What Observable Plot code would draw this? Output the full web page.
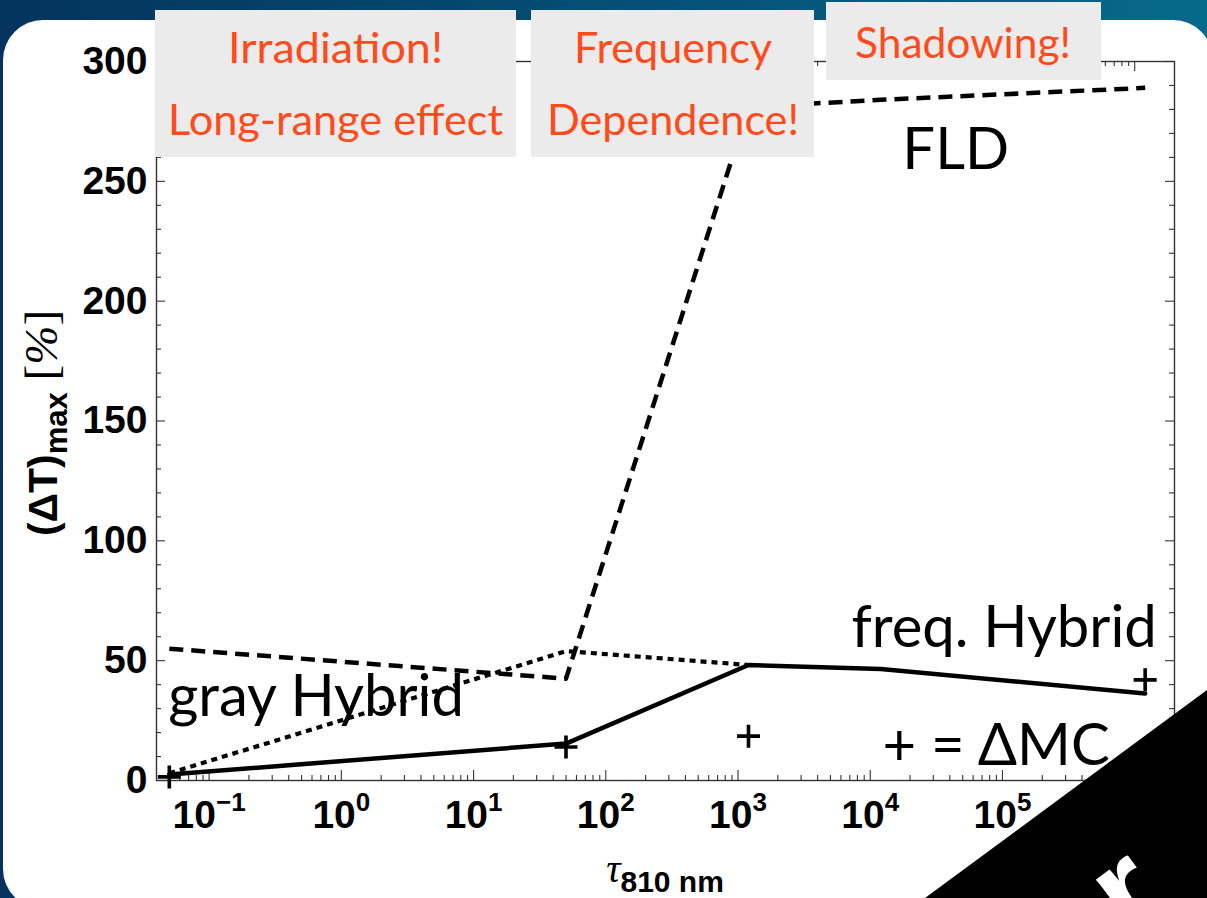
<!DOCTYPE html>
<html><head><meta charset="utf-8">
<script src="https://cdn.jsdelivr.net/npm/d3@7"></script>
<script src="https://cdn.jsdelivr.net/npm/@observablehq/plot@0.6"></script>
<style>
html,body{margin:0;padding:0;width:1207px;height:898px;overflow:hidden;}
body{background:linear-gradient(90deg,#04345d 0%,#044e74 50%,#066a8b 100%);position:relative;}
#panel{position:absolute;left:3px;top:20px;width:1210px;height:889px;background:#fff;border-radius:40px;}
#chart{position:absolute;left:0;top:0;width:1207px;height:898px;}
</style></head><body><div id="panel"></div><div id="chart"></div>
<script>
// ---- data ----
const tau        = [0.05, 50, 1200, 12000, 1.2e6];
const fld        = [55, 42.5, 281, 284, 289];
const grayHybrid = [3, 54, 48.2, null, null];
const freqHybrid = [2.5, 15.4, 48.2, 46.5, 36.3];
const deltaMC    = [1.5, 14, 18.5, null, 42];

const xTickValues = [0.1, 1, 10, 100, 1000, 1e4, 1e5, 1e6];
const yTickValues = [0, 50, 100, 150, 200, 250, 300];

// in-plot labels (annotation)
const labelText   = ["FLD", "freq. Hybrid", "gray Hybrid", "+ = \u0394MC"];
const labelTau    = [44300, 1.47e6, 0.049, 12400];
const labelValue  = [255, 55.5, 27.1, 6.3];
const labelAnchor = ["middle", "end", "start", "start"];
const labelWidth  = [100, 304, 300, 246];
const labelSize   = [59, 58, 58, 60];

// call-out boxes (annotation)
const boxLines = [["Irradiation!", "Long-range effect"], ["Frequency", "Dependence!"], ["Shadowing!"]];

// ---- derived tables ----
const rows = tau.map((t, i) => ({tau: t, fld: fld[i], gray: grayHybrid[i], freq: freqHybrid[i]}));
const mcRows = tau.map((t, i) => ({tau: t, mc: deltaMC[i]})).filter(d => d.mc != null);

const xDomain = [0.04, 2e6];
const yDomain = [0, 300];
const xMinor = [];
for (let e = -2; e <= 6; e++) for (let m = 2; m <= 9; m++) {
  const v = m * Math.pow(10, e);
  if (v > xDomain[0] && v < xDomain[1]) xMinor.push(v);
}
const xMajor = xTickValues.filter(v => v > xDomain[0] && v < xDomain[1]);
const yMinor = d3.range(0, 301, 10).filter(v => v % 50 !== 0);

const tickStroke = "#333";
function xTicks(vals, len) {
  return [
    Plot.ruleX(vals, {x: d => d, y1: () => 0, y2: () => 0, insetTop: -len, stroke: tickStroke, strokeWidth: 1.1}),
    Plot.ruleX(vals, {x: d => d, y1: () => 300, y2: () => 300, insetBottom: -len, stroke: tickStroke, strokeWidth: 1.1})
  ];
}
function yTicks(vals, len) {
  return [
    Plot.ruleY(vals, {y: d => d, x1: () => xDomain[0], x2: () => xDomain[0], insetRight: -len, stroke: tickStroke, strokeWidth: 1.1}),
    Plot.ruleY(vals, {y: d => d, x1: () => xDomain[1], x2: () => xDomain[1], insetLeft: -len, stroke: tickStroke, strokeWidth: 1.1})
  ];
}

const plusSymbol = {
  draw(ctx, size) {
    const r = Math.sqrt(size / Math.PI);
    ctx.moveTo(-r, 0); ctx.lineTo(r, 0);
    ctx.moveTo(0, -r); ctx.lineTo(0, r);
  }
};

const humanist = "Lato, 'Open Sans', sans-serif";
const labelIdx = labelText.map((_, i) => i);
const anchors = ["start", "middle", "end"];
const labelMarks = anchors.map(a => Plot.text(labelIdx.filter(i => labelAnchor[i] === a), {
  x: i => labelTau[i], y: i => labelValue[i], text: i => labelText[i],
  textAnchor: a, lineAnchor: "bottom", fontSize: 58, fontFamily: humanist,
  fill: "black", ariaLabel: "label-" + a
}));

const sansBold = "'Liberation Sans', Arial, Helvetica, sans-serif";
const serif = "'Liberation Serif', 'Times New Roman', serif";

const plot = Plot.plot({
  width: 1207, height: 898,
  marginLeft: 156, marginRight: 33, marginTop: 61, marginBottom: 118,
  style: {background: "transparent", overflow: "visible", fontFamily: sansBold},
  x: {type: "log", domain: xDomain},
  y: {domain: yDomain},
  marks: [
    ...xTicks(xMajor, 10), ...xTicks(xMinor, 5),
    ...yTicks(yTickValues, 9), ...yTicks(yMinor, 5),
    Plot.frame({stroke: "#333", strokeWidth: 1.4}),
    Plot.axisX(xTickValues, {tickSize: 0, tickPadding: 20, fontSize: 39, fontWeight: "bold", fontFamily: sansBold, fill: "black",
      tickFormat: d => String(Math.round(Math.log10(d))), label: null}),
    Plot.axisY(yTickValues, {tickSize: 0, tickPadding: 9, fontSize: 39, fontWeight: "bold", fontFamily: sansBold, fill: "black", label: null}),
    Plot.line(rows, {x: "tau", y: "fld", stroke: "black", strokeWidth: 4.5, strokeDasharray: "14,8", strokeLinecap: "butt"}),
    Plot.line(rows, {x: "tau", y: "gray", stroke: "black", strokeWidth: 4.2, strokeDasharray: "6,5", strokeLinecap: "butt"}),
    Plot.line(rows, {x: "tau", y: "freq", stroke: "black", strokeWidth: 4.5}),
    Plot.dot(mcRows, {x: "tau", y: "mc", symbol: plusSymbol, r: 11.5, stroke: "black", strokeWidth: 3.6, fill: "none"}),
    ...labelMarks
  ]
});

document.getElementById("chart").append(plot);
const svg = d3.select(plot);

// superscript exponents on x tick labels
svg.selectAll('g[aria-label="x-axis tick label"] text').each(function () {
  const e = this.textContent.replace("-", "\u2212");
  this.textContent = "";
  const t = d3.select(this);
  t.append("tspan").text("10");
  t.append("tspan").attr("dy", -17).attr("font-size", 26).text(e);
});

// set size and squeeze to the reference width (the reference face is narrower)
function fitLen(node, size, w) {
  node.setAttribute("font-size", size);
  node.setAttribute("textLength", w);
  node.setAttribute("lengthAdjust", "spacingAndGlyphs");
}
anchors.forEach(a => {
  const ids = labelIdx.filter(i => labelAnchor[i] === a);
  plot.querySelectorAll(`g[aria-label="label-${a}"] text`).forEach((n, k) => fitLen(n, labelSize[ids[k]], labelWidth[ids[k]]));
});

// axis titles
const yl = svg.append("text").attr("transform", "translate(57,423) rotate(-90)").attr("text-anchor", "middle").attr("fill", "black");
yl.append("tspan").attr("font-family", sansBold).attr("font-weight", "bold").attr("font-size", 41).text("(\u0394T)");
yl.append("tspan").attr("font-family", sansBold).attr("font-weight", "bold").attr("font-size", 31).attr("dy", 10).text("max");
yl.append("tspan").attr("font-family", serif).attr("font-size", 47).attr("dy", -10).text(" [");
yl.append("tspan").attr("font-family", serif).attr("font-style", "italic").attr("font-size", 47).text("%");
yl.append("tspan").attr("font-family", serif).attr("font-size", 47).text("]");

const xl = svg.append("text").attr("x", 665).attr("y", 882).attr("text-anchor", "middle").attr("fill", "black");
xl.append("tspan").attr("font-family", serif).attr("font-style", "italic").attr("font-size", 40).text("\u03C4");
xl.append("tspan").attr("font-family", sansBold).attr("font-weight", "bold").attr("font-size", 30).attr("dy", 10).text("810 nm");

// call-out boxes
const boxGeom = [
  {x: 155, y: 10, w: 361, h: 147, cx: 335.5, base: [63, 135], widths: [215, 335], size: 42},
  {x: 531, y: 10, w: 283, h: 147, cx: 673, base: [63, 135], widths: [198, 252], size: 42},
  {x: 826, y: 2, w: 275, h: 78, cx: 963, base: [58], widths: [216], size: 42}
];
const gBoxes = svg.append("g");
boxGeom.forEach((b, i) => {
  gBoxes.append("rect").attr("x", b.x).attr("y", b.y).attr("width", b.w).attr("height", b.h).attr("fill", "#ebebeb");
  boxLines[i].forEach((line, j) => {
    const t = gBoxes.append("text").attr("x", b.cx).attr("y", b.base[j]).attr("text-anchor", "middle")
      .attr("font-family", humanist).attr("fill", "#ff4a1a").text(line);
    fitLen(t.node(), b.size, b.widths[j]);
  });
});

// black corner banner
const gB = svg.append("g");
gB.append("polygon").attr("points", "925,898 1207,690 1207,898 925,898").attr("fill", "black");
gB.append("text").attr("transform", "translate(1150,925) rotate(-36.4)").attr("font-family", sansBold)
  .attr("font-weight", "bold").attr("font-size", 130).attr("fill", "white").text("r");
</script>
</body></html>
